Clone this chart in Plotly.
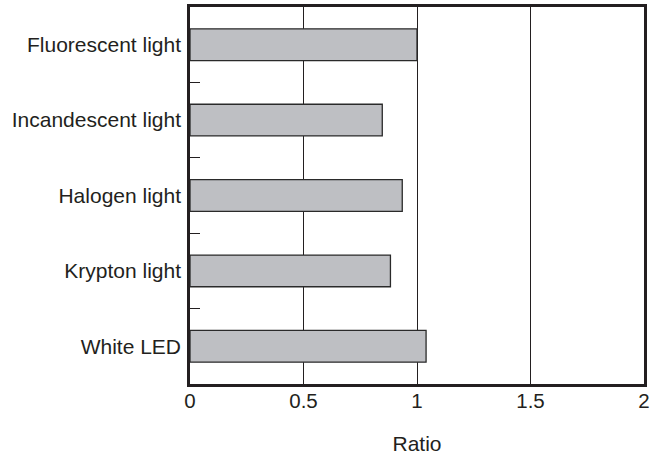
import plotly.graph_objects as go

categories = ["Fluorescent light", "Incandescent light", "Halogen light", "Krypton light", "White LED"]
ratios = [1.0, 0.847, 0.935, 0.883, 1.04]
x_tick_vals = [0, 0.5, 1, 1.5, 2]
x_tick_text = ["0", "0.5", "1", "1.5", "2"]

fig = go.Figure(go.Bar(
    x=ratios, y=categories, orientation="h",
    marker=dict(color="#bebfc3", line=dict(color="#2a2a2a", width=1.3)),
    width=0.42,
))

ink = "#231f20"
family = "Liberation Sans, Arial, sans-serif"

fig.update_layout(
    width=659, height=460,
    margin=dict(l=190, r=15, t=7, b=76),
    paper_bgcolor="white", plot_bgcolor="white",
    font=dict(family=family, size=21, color=ink), showlegend=False,
)
fig.update_xaxes(
    range=[0, 2], tickvals=x_tick_vals, ticktext=x_tick_text,
    tickfont=dict(family=family, size=20.5, color=ink),
    showgrid=True, gridcolor=ink, gridwidth=1.2,
    zeroline=False, showline=True, linecolor=ink, linewidth=2.5, mirror=True,
    ticks="", automargin=False, ticklabelstandoff=-3,
    title=dict(text="Ratio", standoff=25, font=dict(family=family, size=21, color=ink)),
)
fig.update_yaxes(
    categoryorder="array", categoryarray=categories[::-1],
    tickfont=dict(family=family, size=21, color=ink),
    showgrid=False, zeroline=False, automargin=False,
    showline=True, linecolor=ink, linewidth=2.5, mirror=True,
    ticks="inside", tickson="boundaries", ticklen=10, tickcolor=ink, tickwidth=1.2,
    ticklabelstandoff=2,
)
fig.write_html("out.html", config={"displayModeBar": False},
               post_script="document.body.style.margin='0';")
